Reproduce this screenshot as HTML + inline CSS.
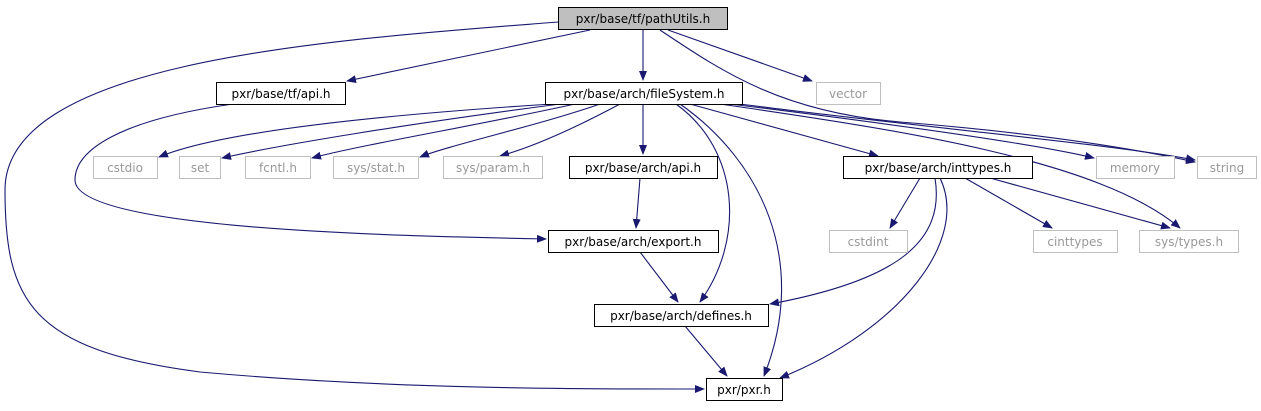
<!DOCTYPE html>
<html><head><meta charset="utf-8"><style>
body{margin:0;background:#fff;}
svg{display:block;}
text{font-family:"DejaVu Sans","Liberation Sans",sans-serif;font-size:12px;}
</style></head><body>
<svg width="1261" height="411" viewBox="0 0 1261 411" xmlns="http://www.w3.org/2000/svg">
<defs>
<marker id="a" markerWidth="10" markerHeight="8" refX="9" refY="4" orient="auto" markerUnits="userSpaceOnUse">
<path d="M0,0 L10,4 L0,8 Z" fill="#191970"/>
</marker>
</defs>
<g fill="none" stroke="#191970" stroke-width="1.1" marker-end="url(#a)">
<path d="M558,22 C330,40 5,60 5,190 C5,300 30,350 200,372 C400,390 600,389 704,389"/>
<path d="M590,30 L347,81"/>
<path d="M643,30 L643,80"/>
<path d="M668,30 L812,81"/>
<path d="M660,30 C720,70 780,112 900,122 C1050,134 1140,150 1195,162"/>
<path d="M233,104 C120,120 75,150 75,180 C75,230 400,236 546,239"/>
<path d="M552,104 C300,120 200,140 159,157"/>
<path d="M560,104 C400,125 280,145 222,158"/>
<path d="M575,104 C480,125 360,145 312,158"/>
<path d="M600,104 C540,125 450,145 420,157"/>
<path d="M620,104 C590,120 540,145 500,156"/>
<path d="M643,104 L643,154"/>
<path d="M690,104 L878,156"/>
<path d="M730,104 C900,125 1040,145 1094,158"/>
<path d="M740,104 C900,125 1120,145 1195,160"/>
<path d="M720,104 C900,130 1100,160 1180,228"/>
<path d="M676,104 C740,150 745,240 700,302"/>
<path d="M680,104 C760,160 810,260 764,376"/>
<path d="M640,178 L636,228"/>
<path d="M640,252 L678,302"/>
<path d="M685,326 L727,376"/>
<path d="M920,178 L890,228"/>
<path d="M935,178 C945,240 900,280 770,304"/>
<path d="M940,178 C970,240 900,330 780,378"/>
<path d="M965,178 L1052,228"/>
<path d="M990,178 L1170,228"/>
</g>
<g stroke-width="1">
<rect x="558.5" y="7.5" width="169" height="22" fill="#bfbfbf" stroke="#000"/>
<rect x="216.5" y="82.5" width="129" height="22" fill="#fff" stroke="#000"/>
<rect x="545.5" y="82.5" width="197" height="22" fill="#fff" stroke="#000"/>
<rect x="816.5" y="82.5" width="64" height="22" fill="#fff" stroke="#bfbfbf"/>
<rect x="93.5" y="156.5" width="64" height="22" fill="#fff" stroke="#bfbfbf"/>
<rect x="179.5" y="156.5" width="41" height="22" fill="#fff" stroke="#bfbfbf"/>
<rect x="245.5" y="156.5" width="65" height="22" fill="#fff" stroke="#bfbfbf"/>
<rect x="333.5" y="156.5" width="85" height="22" fill="#fff" stroke="#bfbfbf"/>
<rect x="443.5" y="156.5" width="99" height="22" fill="#fff" stroke="#bfbfbf"/>
<rect x="569.5" y="156.5" width="148" height="22" fill="#fff" stroke="#000"/>
<rect x="843.5" y="156.5" width="189" height="22" fill="#fff" stroke="#000"/>
<rect x="1096.5" y="156.5" width="78" height="22" fill="#fff" stroke="#bfbfbf"/>
<rect x="1197.5" y="156.5" width="59" height="22" fill="#fff" stroke="#bfbfbf"/>
<rect x="829.5" y="230.5" width="78" height="22" fill="#fff" stroke="#bfbfbf"/>
<rect x="548.5" y="230.5" width="170" height="22" fill="#fff" stroke="#000"/>
<rect x="1033.5" y="230.5" width="84" height="22" fill="#fff" stroke="#bfbfbf"/>
<rect x="1139.5" y="230.5" width="99" height="22" fill="#fff" stroke="#bfbfbf"/>
<rect x="594.5" y="304.5" width="174" height="22" fill="#fff" stroke="#000"/>
<rect x="706.5" y="378.5" width="76" height="22" fill="#fff" stroke="#000"/>
</g>
<g fill="#000" text-anchor="middle">
<text x="643" y="23">pxr/base/tf/pathUtils.h</text>
<text x="281" y="98">pxr/base/tf/api.h</text>
<text x="644" y="98">pxr/base/arch/fileSystem.h</text>
<text x="848" y="98" fill="#999">vector</text>
<text x="125" y="172" fill="#999">cstdio</text>
<text x="200" y="172" fill="#999">set</text>
<text x="278" y="172" fill="#999">fcntl.h</text>
<text x="376" y="172" fill="#999">sys/stat.h</text>
<text x="493" y="172" fill="#999">sys/param.h</text>
<text x="643" y="172">pxr/base/arch/api.h</text>
<text x="938" y="172">pxr/base/arch/inttypes.h</text>
<text x="1135" y="172" fill="#999">memory</text>
<text x="1227" y="172" fill="#999">string</text>
<text x="868" y="246" fill="#999">cstdint</text>
<text x="633" y="246">pxr/base/arch/export.h</text>
<text x="1075" y="246" fill="#999">cinttypes</text>
<text x="1189" y="246" fill="#999">sys/types.h</text>
<text x="681" y="320">pxr/base/arch/defines.h</text>
<text x="744" y="394">pxr/pxr.h</text>
</g>
</svg>
</body></html>
